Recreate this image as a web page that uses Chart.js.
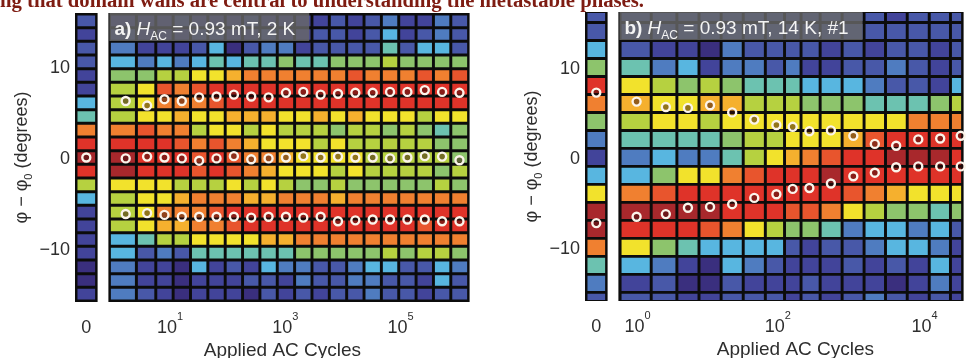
<!DOCTYPE html>
<html>
<head>
<meta charset="utf-8">
<title>Angle distributions vs applied AC cycles</title>
<script src="https://cdn.jsdelivr.net/npm/chart.js@4.4.1/dist/chart.umd.min.js"></script>
<style>
  html, body { margin: 0; padding: 0; background: #fff; }
  body { position: relative; width: 969px; height: 358px; overflow: hidden; }
  canvas { position: absolute; top: 0; }
  #caption { position: absolute; left: 0; top: -10px; white-space: nowrap; font: bold 20px/20px "Liberation Serif", "Times New Roman", serif; color: #7e1c12; transform-origin: 0 0; }
</style>
</head>
<body>
<canvas id="stripA" width="103" height="358" style="left:0px"></canvas>
<canvas id="mainA" width="372" height="358" style="left:103px"></canvas>
<canvas id="stripB" width="133" height="358" style="left:480px"></canvas>
<canvas id="mainB" width="356" height="358" style="left:613px"></canvas>
<div id="caption">ng that domain walls are central to understanding the metastable phases.</div>
<script>
// angle bins, bin centres in degrees (top row first)
const anglesA = [15, 13.5, 12, 10.5, 9, 7.5, 6, 4.5, 3, 1.5, 0, -1.5, -3, -4.5, -6, -7.5, -9, -10.5, -12, -13.5, -15];
const anglesB = [16, 14, 12, 10, 8, 6, 4, 2, 0, -2, -4, -6, -8, -10, -12, -14, -16];

// applied AC cycles of each measured column
const cyclesA = [1.7, 4, 8, 16, 32, 64, 128, 256, 512, 1024, 2048, 4096, 8192, 16384, 32768, 65536, 131072, 262144, 524288, 1048576];
const cyclesB = [1.2, 3, 6, 12, 24, 48, 96, 160, 270, 530, 1070, 2100, 4100, 8200, 16300, 31000];

// colour level of every bin, 0 = lowest ... 13 = highest
const levelsA = [
  [1,1,1,2,1,1,1,2,1,1,1,1,2,1,2,3,1,1,3,2],
  [2,1,1,1,2,2,1,1,2,1,1,2,2,1,2,4,1,2,3,2],
  [3,1,1,1,2,4,0,2,3,3,1,2,2,2,2,5,2,4,4,2],
  [4,3,4,3,4,5,4,5,5,6,5,5,6,6,6,7,6,6,6,6],
  [6,6,7,7,8,8,9,10,10,10,10,10,10,11,10,10,10,11,10,11],
  [7,8,11,10,11,12,12,12,12,12,12,12,12,12,12,12,12,12,12,12],
  [7,8,10,10,10,11,12,12,12,12,12,12,12,12,12,12,12,12,12,12],
  [7,8,8,9,8,8,9,9,9,8,8,9,8,9,8,8,8,7,8,8],
  [10,11,10,10,7,8,8,7,8,7,7,7,6,7,7,6,7,6,5,6],
  [12,12,12,11,10,11,10,9,8,8,8,7,8,7,7,7,7,7,6,6],
  [13,12,12,12,11,12,11,10,10,9,8,8,8,8,7,7,7,7,7,6],
  [13,12,12,12,11,12,11,10,9,8,8,8,7,8,7,7,7,7,6,7],
  [8,8,8,7,7,7,8,7,8,7,6,6,7,6,6,6,6,6,7,6],
  [7,8,8,9,10,10,10,9,9,10,10,10,9,10,10,10,10,10,10,10],
  [7,8,10,10,10,11,12,12,12,12,12,12,12,12,12,12,12,12,12,12],
  [7,8,9,9,10,10,11,12,12,12,12,12,12,12,12,12,12,11,12,12],
  [4,5,7,7,8,8,8,8,9,9,10,10,10,10,10,10,10,10,10,10],
  [4,2,3,2,5,5,5,5,5,5,6,6,6,6,6,7,6,7,7,6],
  [3,1,1,0,4,1,2,1,4,3,3,2,2,3,4,4,2,2,4,3],
  [3,1,1,0,1,1,1,2,2,1,3,2,2,3,3,2,2,1,4,2],
  [3,2,1,0,1,1,1,0,2,1,2,1,2,2,3,2,2,1,2,2]
];
const levelsB = [
  [2,2,2,2,2,2,2,2,2,2,2,2,1,2,2,2],
  [2,2,2,2,2,2,2,2,2,2,2,2,2,2,2,2],
  [2,1,1,0,3,2,2,2,2,1,2,1,2,2,1,2],
  [5,3,4,1,3,3,2,3,1,1,2,2,3,2,1,2],
  [8,7,6,7,6,5,5,5,4,4,4,3,2,2,1,4],
  [9,8,8,9,9,7,7,7,6,6,6,5,5,5,6,7],
  [7,8,8,7,8,8,8,8,8,8,8,8,8,10,10,10],
  [5,5,5,5,6,7,7,8,8,8,9,11,12,12,12,12],
  [3,4,3,3,5,7,8,9,10,11,12,12,13,13,13,12],
  [4,6,8,8,10,11,12,12,12,13,12,12,12,12,12,12],
  [10,11,12,12,12,12,12,12,12,12,11,10,9,8,8,8],
  [13,13,13,13,12,12,12,11,11,10,8,7,6,6,5,6],
  [12,12,12,11,10,8,7,6,6,5,3,4,4,3,4,2],
  [8,6,5,4,4,4,4,2,1,2,2,3,4,4,3,1],
  [4,3,1,0,4,3,2,1,1,1,2,1,2,1,4,1],
  [1,2,0,0,2,1,1,1,2,1,1,1,0,1,3,1],
  [2,2,1,1,2,2,2,1,2,1,2,3,2,1,2,1]
];

// the zero-cycle column left of each panel
const stripA = [2,1,2,2,1,1,4,5,10,12,13,12,7,4,1,1,1,1,0,0,1];
const stripB = [2,2,4,6,12,10,6,3,1,4,8,13,13,10,5,3,2];

// peak positions (degrees) marked with circles
const peakUpA = [6.2, 5.7, 6.4, 6.2, 6.6, 6.7, 6.9, 6.7, 6.6, 7.1, 7.2, 6.9, 7.0, 7.1, 7.1, 7.2, 7.2, 7.4, 7.2, 7.1];
const peakMidA = [-0.1, 0.1, 0, -0.1, -0.35, -0.1, 0.15, -0.2, -0.1, 0, 0.15, 0, 0.1, 0, 0, -0.1, 0, 0.15, 0.1, -0.3];
const peakLowA = [-6.2, -6.1, -6.3, -6.5, -6.5, -6.5, -6.5, -6.6, -6.5, -6.5, -6.6, -6.5, -7.0, -6.9, -6.8, -6.8, -6.8, -6.8, -7.0, -7.0];
const peakUpB = [6.2, 5.6, 5.5, 5.8, 5.0, 4.2, 3.6, 3.4, 2.9, 3.0, 2.4, 1.5, 1.3, 2.0, 2.1, 2.4];
const peakLowB = [-6.6, -6.3, -5.6, -5.5, -5.2, -4.5, -4.1, -3.5, -3.4, -2.9, -2.1, -1.7, -1.1, -1.0, -1.0, -1.0];
const stripPeaksA = [0];
const stripPeaksB = [7.2, -7.3];

const yTicks = [-10, 0, 10];
const xTicksA = [10, 1000, 100000];
const xTicksB = [1, 100, 10000];

const palette = ['#3a2f7e', '#42449a', '#4858a8', '#4f7cc0', '#58b6e0', '#6cc2b0', '#8dc46c',
  '#b6d140', '#f2e22c', '#f5b02e', '#f08030', '#e8552d', '#df3329', '#a8282c'];

const FONT = '"Liberation Sans", Arial, Helvetica, sans-serif';

function runFont(r, size) {
  const s = (r.sub || r.sup) ? Math.round(size * 0.62) : size;
  return (r.style || '') + ' ' + s + 'px ' + FONT;
}

function runsWidth(ctx, runs, size) {
  return runs.reduce((w, r) => { ctx.font = runFont(r, size); return w + ctx.measureText(r.t).width; }, 0);
}

// draws text made of pieces (plain / sub / sup), left aligned at x
function drawRuns(ctx, runs, x, y, size) {
  ctx.textAlign = 'left';
  runs.forEach(r => {
    ctx.font = runFont(r, size);
    const dy = r.sub ? size * 0.27 : r.sup ? -size * 0.72 : 0;
    ctx.fillText(r.t, x, y + dy);
    x += ctx.measureText(r.t).width;
  });
}

const darkBg = {
  id: 'darkBg',
  beforeDatasetsDraw(chart) {
    const a = chart.chartArea, ctx = chart.ctx;
    ctx.save();
    ctx.fillStyle = '#0c0c0c';
    ctx.fillRect(a.left - 1, a.top - 1, a.right - a.left + 2, a.bottom - a.top + 2);
    ctx.restore();
  }
};

const axisText = {
  id: 'axisText',
  afterDraw(chart, args, o) {
    const ctx = chart.ctx, a = chart.chartArea;
    const xs = chart.scales.x, ys = chart.scales.y;
    ctx.save();
    ctx.textBaseline = 'alphabetic';
    ctx.fillStyle = '#2e2e2e';

    if (o.yAxis) {
      ctx.font = '18px ' + FONT;
      ctx.textAlign = 'right';
      ys.ticks.forEach(t => {
        const s = t.value < 0 ? '\u2212' + Math.abs(t.value) : String(t.value);
        ctx.fillText(s, a.left - 6, ys.getPixelForValue(t.value) + 6.5);
      });
      const title = [{ t: '\u03c6 \u2212 \u03c6' }, { t: '0', sub: true }, { t: ' (degrees)' }];
      ctx.save();
      ctx.translate(a.left - 54, (a.top + a.bottom) / 2);
      ctx.rotate(-Math.PI / 2);
      drawRuns(ctx, title, -runsWidth(ctx, title, 18) / 2, 5, 18);
      ctx.restore();
      // the zero-cycle column label
      ctx.font = '18px ' + FONT;
      ctx.textAlign = 'center';
      xs.ticks.forEach(t => ctx.fillText(String(t.value), xs.getPixelForValue(t.value), a.bottom + 31.5));
    }

    if (o.xAxis) {
      xs.ticks.forEach(t => {
        const runs = [{ t: '10' }, { t: String(Math.round(Math.log10(t.value))), sup: true }];
        const w = runsWidth(ctx, runs, 18);
        const left = Math.max(xs.getPixelForValue(t.value) - w / 2, a.left + 5);
        drawRuns(ctx, runs, left, a.bottom + 31.5, 18);
      });
      ctx.font = '19px ' + FONT;
      ctx.textAlign = 'center';
      ctx.fillText('Applied AC Cycles', a.left + o.xAxis.titleDx, a.bottom + 54.5);
    }

    if (o.box) {
      const w = runsWidth(ctx, o.box, 19);
      ctx.fillStyle = 'rgba(104,104,104,0.82)';
      ctx.fillRect(a.left, a.top - 1, w + 19, 28);
      ctx.fillStyle = '#f4f4f4';
      drawRuns(ctx, o.box, a.left + 5, a.top + 21, 19);
    }
    ctx.restore();
  }
};

function buildChart(id, cfg) {
  const bars = {
    type: 'bar', indexAxis: 'y', data: [], backgroundColor: [],
    borderColor: '#0c0c0c', borderWidth: 1.8, borderSkipped: false,
    barPercentage: 1, categoryPercentage: 1, clip: 0, order: 2
  };
  cfg.angles.forEach((deg, r) => {
    cfg.cols.forEach((n, c) => {
      const lo = c === 0 ? cfg.xmin : Math.sqrt(cfg.cols[c - 1] * n);
      const hi = c === cfg.cols.length - 1 ? cfg.xmax : Math.sqrt(n * cfg.cols[c + 1]);
      bars.data.push({ x: [lo, hi], y: deg });
      bars.backgroundColor.push(palette[cfg.levels[r][c]]);
    });
  });

  const marks = cfg.markers.map(pts => ({
    type: 'scatter', data: pts, order: 1, clip: 8,
    pointStyle: 'circle', pointRadius: 4, pointBorderWidth: 2.4,
    pointBorderColor: '#fbf4ea', pointBackgroundColor: 'rgba(50,8,8,0.5)'
  }));

  return new Chart(document.getElementById(id), {
    type: 'bar',
    data: { datasets: [bars].concat(marks) },
    options: {
      responsive: false, animation: false, events: [], devicePixelRatio: 1,
      layout: { padding: cfg.padding },
      scales: {
        x: {
          type: cfg.xType, min: cfg.xmin, max: cfg.xmax, offset: false, display: false,
          afterBuildTicks: s => { s.ticks = cfg.xTicks.map(v => ({ value: v })); }
        },
        y: {
          type: 'linear', min: cfg.ymin, max: cfg.ymax, offset: false, display: false,
          afterBuildTicks: s => { s.ticks = yTicks.map(v => ({ value: v })); }
        }
      },
      plugins: { legend: { display: false }, tooltip: { enabled: false }, axisText: cfg.text }
    },
    plugins: [darkBg, axisText]
  });
}

const pts = (cols, ys) => cols.map((n, i) => ({ x: n, y: ys[i] }));

// panel a
buildChart('stripA', {
  angles: anglesA, cols: [0], levels: stripA.map(v => [v]),
  xType: 'linear', xmin: -0.5, xmax: 0.5, xTicks: [0], ymin: -15.75, ymax: 15.75,
  markers: [stripPeaksA.map(p => ({ x: 0, y: p }))],
  padding: { left: 76, right: 4, top: 14, bottom: 57 },
  text: { yAxis: true }
});
buildChart('mainA', {
  angles: anglesA, cols: cyclesA, levels: levelsA,
  xType: 'logarithmic', xmin: 0.887, xmax: 1.51e6, xTicks: xTicksA, ymin: -15.75, ymax: 15.75,
  markers: [pts(cyclesA, peakUpA), pts(cyclesA, peakMidA), pts(cyclesA, peakLowA)],
  padding: { left: 4, right: 6, top: 14, bottom: 57 },
  text: {
    xAxis: { titleDx: 173 },
    box: [{ t: 'a)', style: 'bold' }, { t: ' ' }, { t: 'H', style: 'italic' }, { t: 'AC', sub: true }, { t: ' = 0.93 mT, 2 K' }]
  }
});

// panel b
buildChart('stripB', {
  angles: anglesB, cols: [0], levels: stripB.map(v => [v]),
  xType: 'linear', xmin: -0.5, xmax: 0.5, xTicks: [0], ymin: -15.85, ymax: 16.05,
  markers: [stripPeaksB.map(p => ({ x: 0, y: p }))],
  padding: { left: 106, right: 4, top: 13, bottom: 58 },
  text: { yAxis: true }
});
buildChart('mainB', {
  angles: anglesB, cols: cyclesB, levels: levelsB,
  xType: 'logarithmic', xmin: 0.715, xmax: 32890, xTicks: xTicksB, ymin: -15.85, ymax: 16.05,
  markers: [pts(cyclesB, peakUpB), pts(cyclesB, peakLowB)],
  padding: { left: 4, right: 0, top: 13, bottom: 58 },
  text: {
    xAxis: { titleDx: 176 },
    box: [{ t: 'b)', style: 'bold' }, { t: ' ' }, { t: 'H', style: 'italic' }, { t: 'AC', sub: true }, { t: ' = 0.93 mT, 14 K, #1' }]
  }
});

// squeeze the cut-off caption line to the width it has in the figure
const cap = document.getElementById('caption');
cap.style.transform = 'scaleX(' + (644 / cap.getBoundingClientRect().width) + ')';
</script>
</body>
</html>
